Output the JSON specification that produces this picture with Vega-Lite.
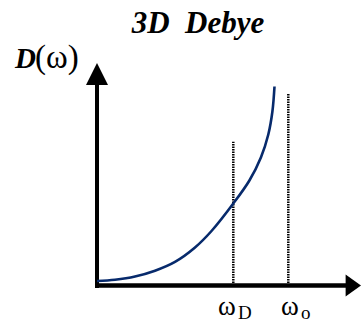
{
  "$schema": "https://vega.github.io/schema/vega-lite/v6.json",
  "width": 362,
  "height": 324,
  "autosize": "none",
  "padding": 0,
  "background": "white",
  "config": {"view": {"stroke": null}},
  "datasets": {
    "curve": [
      {"w": 0, "d": 4.5},
      {"w": 18, "d": 5.8},
      {"w": 38, "d": 9.0},
      {"w": 58, "d": 14.8},
      {"w": 78, "d": 23.6},
      {"w": 98, "d": 38.0},
      {"w": 114.5, "d": 54.5},
      {"w": 136.3, "d": 82.0},
      {"w": 152.4, "d": 105.0},
      {"w": 163.9, "d": 128.0},
      {"w": 171.3, "d": 151.0},
      {"w": 175.4, "d": 174.0},
      {"w": 177.5, "d": 199.0}
    ],
    "guides": [
      {"name": "wD", "w": 136.3, "d0": 0, "d1": 143.8},
      {"name": "wo", "w": 191.3, "d0": 0, "d1": 192.5}
    ],
    "axislines": [
      {"axis": "y", "w0": 0, "w1": 0, "d0": -2.5, "d1": 203},
      {"axis": "x", "w0": -2, "w1": 250, "d0": 0, "d1": 0}
    ],
    "arrows": [
      {"dir": "up", "w": 0, "d": 211.5},
      {"dir": "right", "w": 253, "d": 0}
    ],
    "labels": [
      {"role": "title", "text": "3D  Debye", "w": 101, "d": 252.5},
      {"role": "ylab", "text": "D", "w": -82, "d": 217.5},
      {"role": "ylab2", "text": "(ω)", "w": -62, "d": 217.5},
      {"role": "omega", "text": "ω", "w": 121, "d": -29.5},
      {"role": "sub", "text": "D", "w": 141, "d": -33.5},
      {"role": "omega", "text": "ω", "w": 184, "d": -29.5},
      {"role": "sub", "text": "o", "w": 204, "d": -33.5}
    ]
  },
  "layer": [
    {
      "data": {"name": "axislines"},
      "transform": [{"filter": "datum.axis == 'y'"}],
      "mark": {"type": "rule", "color": "black", "strokeWidth": 4},
      "encoding": {
        "x": {"field": "w0", "type": "quantitative", "scale": {"domain": [-97, 265], "nice": false, "zero": false}, "axis": null},
        "y": {"field": "d0", "type": "quantitative", "scale": {"domain": [-38.5, 285.5], "nice": false, "zero": false}, "axis": null},
        "y2": {"field": "d1"}
      }
    },
    {
      "data": {"name": "axislines"},
      "transform": [{"filter": "datum.axis == 'x'"}],
      "mark": {"type": "rule", "color": "black", "strokeWidth": 4.5},
      "encoding": {
        "x": {"field": "w0", "type": "quantitative"},
        "x2": {"field": "w1"},
        "y": {"field": "d0", "type": "quantitative"}
      }
    },
    {
      "data": {"name": "arrows"},
      "mark": {"type": "point", "filled": true, "color": "black", "opacity": 1, "size": 484, "strokeWidth": 0},
      "encoding": {
        "x": {"field": "w", "type": "quantitative"},
        "y": {"field": "d", "type": "quantitative"},
        "shape": {"field": "dir", "type": "nominal", "scale": {"domain": ["up", "right"], "range": ["M0,-1L1,1L-1,1Z", "M1,0L-0.4,-1L-0.4,1Z"]}, "legend": null}
      }
    },
    {
      "data": {"name": "guides"},
      "mark": {"type": "rule", "color": "black", "strokeWidth": 2.5, "strokeDash": [1.5, 1]},
      "encoding": {
        "x": {"field": "w", "type": "quantitative"},
        "y": {"field": "d0", "type": "quantitative"},
        "y2": {"field": "d1"}
      }
    },
    {
      "data": {"name": "curve"},
      "mark": {"type": "line", "color": "#072a6c", "strokeWidth": 2.6, "interpolate": "catmull-rom"},
      "encoding": {
        "x": {"field": "w", "type": "quantitative"},
        "y": {"field": "d", "type": "quantitative"}
      }
    },
    {
      "data": {"name": "labels"},
      "transform": [{"filter": "datum.role == 'title'"}, {"calculate": "replace(datum.text, ' ', '\u00a0')", "as": "t"}],
      "mark": {"type": "text", "font": "Liberation Serif", "fontSize": 31, "fontWeight": "bold", "fontStyle": "italic", "align": "center", "baseline": "alphabetic", "color": "black"},
      "encoding": {
        "x": {"field": "w", "type": "quantitative"},
        "y": {"field": "d", "type": "quantitative"},
        "text": {"field": "t"}
      }
    },
    {
      "data": {"name": "labels"},
      "transform": [{"filter": "datum.role == 'ylab'"}],
      "mark": {"type": "text", "font": "Liberation Serif", "fontSize": 29, "fontWeight": "bold", "fontStyle": "italic", "align": "left", "baseline": "alphabetic", "color": "black"},
      "encoding": {
        "x": {"field": "w", "type": "quantitative"},
        "y": {"field": "d", "type": "quantitative"},
        "text": {"field": "text"}
      }
    },
    {
      "data": {"name": "labels"},
      "transform": [{"filter": "datum.role == 'ylab2'"}],
      "mark": {"type": "text", "font": "Liberation Serif", "fontSize": 33, "align": "left", "baseline": "alphabetic", "color": "black"},
      "encoding": {
        "x": {"field": "w", "type": "quantitative"},
        "y": {"field": "d", "type": "quantitative"},
        "text": {"field": "text"}
      }
    },
    {
      "data": {"name": "labels"},
      "transform": [{"filter": "datum.role == 'omega'"}],
      "mark": {"type": "text", "font": "Liberation Serif", "fontSize": 27, "align": "left", "baseline": "alphabetic", "color": "black"},
      "encoding": {
        "x": {"field": "w", "type": "quantitative"},
        "y": {"field": "d", "type": "quantitative"},
        "text": {"field": "text"}
      }
    },
    {
      "data": {"name": "labels"},
      "transform": [{"filter": "datum.role == 'sub'"}],
      "mark": {"type": "text", "font": "Liberation Serif", "fontSize": 19, "align": "left", "baseline": "alphabetic", "color": "black"},
      "encoding": {
        "x": {"field": "w", "type": "quantitative"},
        "y": {"field": "d", "type": "quantitative"},
        "text": {"field": "text"}
      }
    }
  ]
}
